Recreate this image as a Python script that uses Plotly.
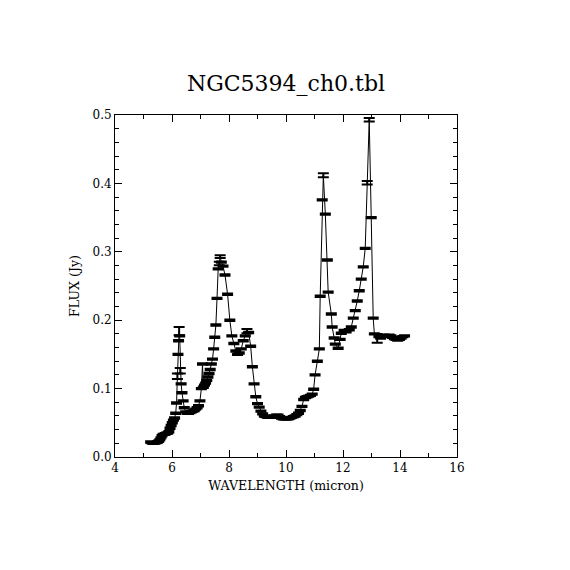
import plotly.graph_objects as go

wavelength = [
    5.25, 5.29, 5.33, 5.37, 5.41, 5.45, 5.49, 5.53, 5.57, 5.61,
    5.65, 5.69, 5.73, 5.77, 5.81, 5.85, 5.89, 5.93, 5.97, 6.01,
    6.05, 6.09, 6.13, 6.16, 6.19, 6.21, 6.23, 6.25, 6.27, 6.29,
    6.32, 6.35, 6.39, 6.43, 6.48, 6.53, 6.58, 6.63, 6.68, 6.73,
    6.78, 6.83, 6.88, 6.93, 6.98, 7.03, 7.07, 7.10, 7.14, 7.18,
    7.22, 7.26, 7.30, 7.34, 7.38, 7.42, 7.46, 7.50, 7.54, 7.58,
    7.62, 7.66, 7.69, 7.73, 7.79, 7.86, 7.95, 8.03, 8.10, 8.17,
    8.24, 8.30, 8.36, 8.43, 8.50, 8.57, 8.63, 8.69, 8.76, 8.82,
    8.88, 8.94, 9.00, 9.06, 9.12, 9.18, 9.24, 9.30, 9.36, 9.42,
    9.48, 9.54, 9.60, 9.66, 9.72, 9.78, 9.84, 9.90, 9.96, 10.02,
    10.08, 10.14, 10.20, 10.26, 10.32, 10.38, 10.44, 10.50, 10.56, 10.62,
    10.68, 10.74, 10.80, 10.86, 10.92, 10.97, 11.02, 11.10, 11.17, 11.20,
    11.27, 11.31, 11.38, 11.45, 11.48, 11.59, 11.62, 11.69, 11.73, 11.83,
    11.90, 11.94, 12.04, 12.11, 12.22, 12.29, 12.36, 12.43, 12.50, 12.57,
    12.64, 12.71, 12.78, 12.85, 12.92, 12.99, 13.06, 13.10, 13.20, 13.26,
    13.32, 13.38, 13.44, 13.50, 13.56, 13.62, 13.68, 13.74, 13.80, 13.86,
    13.92, 13.98, 14.04, 14.10, 14.16,
]

flux = [
    0.022, 0.021, 0.020, 0.020, 0.021, 0.021, 0.022, 0.023, 0.025, 0.028,
    0.031, 0.033, 0.033, 0.034, 0.035, 0.035, 0.037, 0.042, 0.046, 0.050,
    0.054, 0.057, 0.064, 0.079, 0.118, 0.150, 0.170, 0.184, 0.177, 0.126,
    0.107, 0.094, 0.082, 0.072, 0.066, 0.064, 0.064, 0.065, 0.066, 0.067,
    0.068, 0.070, 0.072, 0.075, 0.082, 0.100, 0.136, 0.102, 0.105, 0.108,
    0.112, 0.117, 0.122, 0.128, 0.136, 0.143, 0.158, 0.175, 0.193, 0.232,
    0.275, 0.283, 0.293, 0.285, 0.279, 0.266, 0.238, 0.200, 0.177, 0.166,
    0.155, 0.150, 0.152, 0.158, 0.170, 0.177, 0.184, 0.182, 0.162, 0.132,
    0.107, 0.088, 0.078, 0.073, 0.067, 0.063, 0.060, 0.059, 0.058, 0.058,
    0.058, 0.059, 0.060, 0.061, 0.061, 0.059, 0.057, 0.056, 0.056, 0.056,
    0.056, 0.057, 0.058, 0.059, 0.060, 0.062, 0.064, 0.068, 0.074, 0.084,
    0.087, 0.088, 0.089, 0.090, 0.092, 0.099, 0.120, 0.140, 0.158, 0.235,
    0.376, 0.412, 0.355, 0.288, 0.241, 0.209, 0.190, 0.174, 0.165, 0.159,
    0.172, 0.181, 0.185, 0.183, 0.186, 0.190, 0.203, 0.214, 0.228, 0.243,
    0.260, 0.278, 0.305, 0.401, 0.493, 0.350, 0.203, 0.180, 0.1735, 0.176,
    0.174, 0.177, 0.178, 0.177, 0.176, 0.178, 0.177, 0.175, 0.173, 0.172,
    0.171, 0.172, 0.174, 0.176, 0.177,
]

flux_err = [
    0.001, 0.001, 0.001, 0.001, 0.001, 0.001, 0.001, 0.001, 0.001, 0.001,
    0.001, 0.001, 0.001, 0.001, 0.001, 0.001, 0.001, 0.001, 0.001, 0.001,
    0.001, 0.001, 0.001, 0.001, 0.004, 0.001, 0.001, 0.006, 0.001, 0.004,
    0.001, 0.001, 0.001, 0.001, 0.001, 0.001, 0.001, 0.001, 0.001, 0.001,
    0.001, 0.001, 0.001, 0.001, 0.001, 0.001, 0.001, 0.001, 0.001, 0.001,
    0.001, 0.001, 0.001, 0.001, 0.001, 0.001, 0.001, 0.001, 0.001, 0.001,
    0.001, 0.0025, 0.002, 0.001, 0.001, 0.001, 0.001, 0.001, 0.001, 0.001,
    0.001, 0.001, 0.001, 0.001, 0.001, 0.001, 0.003, 0.001, 0.001, 0.001,
    0.001, 0.001, 0.001, 0.001, 0.001, 0.001, 0.001, 0.001, 0.001, 0.001,
    0.001, 0.001, 0.001, 0.001, 0.001, 0.001, 0.001, 0.001, 0.001, 0.001,
    0.001, 0.001, 0.001, 0.001, 0.001, 0.001, 0.001, 0.001, 0.001, 0.001,
    0.001, 0.001, 0.001, 0.001, 0.001, 0.001, 0.001, 0.001, 0.001, 0.001,
    0.001, 0.003, 0.001, 0.001, 0.001, 0.001, 0.001, 0.001, 0.001, 0.001,
    0.001, 0.001, 0.001, 0.001, 0.001, 0.001, 0.001, 0.001, 0.001, 0.001,
    0.001, 0.001, 0.001, 0.0025, 0.0025, 0.001, 0.001, 0.001, 0.0065, 0.001,
    0.001, 0.001, 0.001, 0.001, 0.001, 0.001, 0.001, 0.001, 0.001, 0.001,
    0.001, 0.001, 0.001, 0.001, 0.001,
]

title_text = "NGC5394_ch0.tbl"
x_title = "WAVELENGTH (micron)"
y_title = "FLUX (Jy)"

serif = "DejaVu Serif, Liberation Serif, serif"

fig = go.Figure()
fig.add_trace(go.Scatter(
    x=wavelength, y=flux,
    mode="lines",
    line=dict(color="black", width=1),
    error_y=dict(type="data", array=flux_err, visible=True,
                 color="black", thickness=2, width=5.5),
    showlegend=False,
    hoverinfo="skip",
))

axis_common = dict(
    showline=True, linecolor="black", linewidth=1, mirror="ticks",
    ticks="inside", tickcolor="black", tickwidth=1, ticklen=7,
    showgrid=False, zeroline=False,
    tickfont=dict(family=serif, size=12, color="black"),
)

fig.update_xaxes(
    range=[4, 16], dtick=2, tick0=4,
    minor=dict(dtick=1, ticks="inside", ticklen=4, tickcolor="black", tickwidth=1),
    title=dict(text=x_title, font=dict(family=serif, size=12.6, color="black"), standoff=6),
    **axis_common,
)
fig.update_yaxes(
    range=[0, 0.5], dtick=0.1, tick0=0, tickformat=".1f",
    minor=dict(dtick=0.02, ticks="inside", ticklen=4, tickcolor="black", tickwidth=1),
    title=dict(text=y_title, font=dict(family=serif, size=12.6, color="black"), standoff=10),
    **axis_common,
)

fig.update_layout(
    width=570, height=570,
    margin=dict(l=107, r=121, t=107, b=121),
    paper_bgcolor="white", plot_bgcolor="white",
    title=dict(text=title_text, xref="paper", x=0.5, xanchor="center",
               y=0.868, yanchor="middle",
               font=dict(family=serif, size=22, color="black")),
)

fig.write_html("out.html")
